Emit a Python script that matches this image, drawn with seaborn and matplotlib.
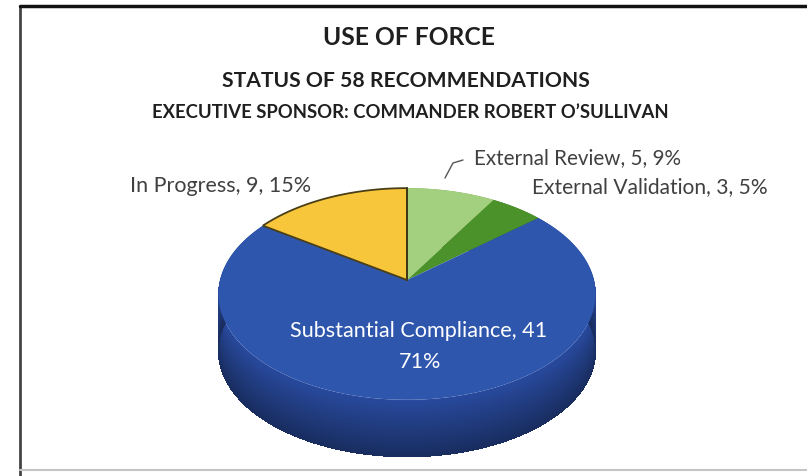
import numpy as np
import matplotlib
matplotlib.use("Agg")
import matplotlib.pyplot as plt
import seaborn as sns
from matplotlib import font_manager
from matplotlib.lines import Line2D
from matplotlib.patches import Polygon

# Recommendation status counts (pie runs clockwise from 12 o'clock)
categories = ["External Review", "External Validation", "Substantial Compliance", "In Progress"]
counts = [5, 3, 41, 9]
percents = [9, 5, 71, 15]
title_lines = [
    "USE OF FORCE",
    "STATUS OF 58 RECOMMENDATIONS",
    "EXECUTIVE SPONSOR: COMMANDER ROBERT O\u2019SULLIVAN",
]

top_colors = ["#a3d07e", "#4c922b", "#2e56ad", "#f7c63a"]
side_colors = ["#7aa553", "#3a7420", "#28499c", "#c99e25"]
edge_colors = [None, None, None, "#4a3f16"]

sns.set_theme(style="white")
available = {f.name for f in font_manager.fontManager.ttflist}
family = next(f for f in ["Lato", "Open Sans", "DejaVu Sans"] if f in available)
plt.rcParams["font.family"] = [family, "DejaVu Sans"]

W, H = 807, 476
fig = plt.figure(figsize=(W / 100, H / 100), dpi=100)
fig.patch.set_facecolor("white")
renderer = fig.canvas.get_renderer()


def fx(px):
    return px / W


def fy(py):
    return 1 - py / H


def fitted_text(x0, x1, yc, s, **kw):
    t = fig.text(fx((x0 + x1) / 2), fy(yc), s, ha="center", va="center", fontsize=10, **kw)
    w = t.get_window_extent(renderer).width
    t.set_fontsize(10 * (x1 - x0) / w)
    return t


# frame around the chart area
fig.add_artist(Line2D([fx(20), fx(20)], [fy(6), fy(476)], color="#444444", lw=2.0))
fig.add_artist(Line2D([fx(20), fx(807)], [fy(6), fy(6)], color="#111111", lw=2.5))
fig.add_artist(Line2D([fx(20), fx(807)], [fy(470), fy(470)], color="#c4c4c4", lw=1.5))

# titles
title_color = "#1f1f1f"
fitted_text(323, 495, 38, title_lines[0], fontweight="bold", color=title_color)
fitted_text(222, 590, 81, title_lines[1], fontweight="bold", color=title_color)
fitted_text(152, 668, 112, title_lines[2], fontweight="bold", color=title_color)

# pixel-space axes for the tilted pie
ax = fig.add_axes([0, 0, 1, 1])
wedges, _ = ax.pie(counts, startangle=90, counterclock=False, radius=1.0, center=(0, 0))
ax.set_aspect("auto")
ax.set_xlim(0, W)
ax.set_ylim(H, 0)
ax.axis("off")

# perspective view of the unit disc: far side compressed
cx, cy, rx, s, k, depth = 407, 280, 187, 104, 0.132, 57


def project(x, y, drop=0.0):
    den = 1 + k * y
    return np.column_stack([cx + rx * x / den, cy - s * y / den + drop])


outlines = []
for w in wedges:
    th = np.radians(np.linspace(w.theta1, w.theta2, 120))
    ox, oy = w.center
    outlines.append((ox + w.r * np.cos(th), oy + w.r * np.sin(th), ox, oy))
    w.remove()

# extruded side: each band reaches the bottom, later (darker) bands overlay the lower part
n_strips = 30
drops = np.linspace(0, depth, n_strips + 1)
for i in range(n_strips):
    shade = 1.0 - 0.38 * (i / (n_strips - 1))
    for (ax_x, ax_y, ox, oy), col in zip(outlines, side_colors):
        base = np.array(matplotlib.colors.to_rgb(col))
        upper = project(ax_x, ax_y, drops[i])
        lower = project(ax_x, ax_y, depth)
        band = np.vstack([upper, lower[::-1]])
        ax.add_patch(Polygon(band, closed=True, facecolor=np.clip(base * shade, 0, 1),
                             edgecolor="none", antialiased=(i == 0), zorder=1))

# top surface
for (ax_x, ax_y, ox, oy), col, ec in zip(outlines, top_colors, edge_colors):
    pts = np.vstack([project(np.array([ox]), np.array([oy])),
                     project(ax_x, ax_y),
                     project(np.array([ox]), np.array([oy]))])
    ax.add_patch(Polygon(pts, closed=True, facecolor=col,
                         edgecolor=ec if ec else "none", lw=1.3 if ec else 0, zorder=2))

# divider at 12 o'clock between In Progress and External Review
top_pt = project(np.array([0.0, 0.0]), np.array([0.0, 1.0]))
ax.plot(top_pt[:, 0], top_pt[:, 1], color="#3f3a14", lw=1.4, zorder=3)

# data labels
label_color = "#404040"
fitted_text(130, 311, 186, f"{categories[3]}, {counts[3]}, {percents[3]}%", color=label_color)
fitted_text(475, 681, 158, f"{categories[0]}, {counts[0]}, {percents[0]}%", color=label_color)
fitted_text(532, 768, 187, f"{categories[1]}, {counts[1]}, {percents[1]}%", color=label_color)
t_sc = fitted_text(290, 547, 331, f"{categories[2]}, {counts[2]}", color="white")
fig.text(fx(420), fy(362), f"{percents[2]}%", ha="center", va="center",
         fontsize=t_sc.get_fontsize(), color="white")

# leader line for External Review
fig.add_artist(Line2D([fx(463), fx(453), fx(445)], [fy(160), fy(163), fy(178)],
                      color="#555555", lw=1.0))

fig.savefig("out.png", dpi=100, facecolor="white")
